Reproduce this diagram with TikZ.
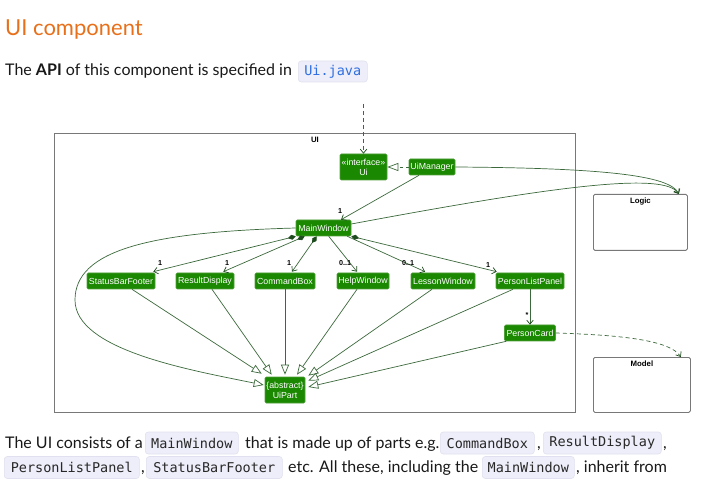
\documentclass[tikz,border=0pt]{standalone}
\usepackage{fontspec}
\setmainfont{Lato}
\newfontfamily\boxfont{Liberation Sans}
\newfontfamily\codefont{DejaVu Sans Mono}
\usetikzlibrary{arrows.meta,calc}
\definecolor{titleorange}{RGB}{232,112,26}
\definecolor{umlgreen}{RGB}{26,136,0}
\definecolor{umlborder}{RGB}{80,160,60}
\definecolor{umlline}{RGB}{60,105,60}
\definecolor{umltip}{RGB}{30,75,30}
\definecolor{codebg}{RGB}{238,238,250}
\definecolor{codeborder}{RGB}{224,224,240}
\definecolor{codefg}{RGB}{40,40,40}
\definecolor{codeblue}{RGB}{45,110,225}
\definecolor{framegray}{RGB}{120,120,120}
\definecolor{bodyfg}{RGB}{25,25,25}
\begin{document}
\begin{tikzpicture}[x=1pt,y=-1pt,
  cls/.style={fill=umlgreen, draw=umlborder, line width=0.6pt, rounded corners=1.2pt,
    text=white, font=\boxfont\fontsize{8.8}{9.8}\selectfont, inner sep=0pt,
    minimum height=16pt, align=center},
  umlpkg/.style={draw=framegray, line width=0.8pt, inner sep=0pt, anchor=north west},
  pkglabel/.style={font=\boxfont\bfseries\fontsize{7.8}{9}\selectfont, inner sep=0pt},
  conn/.style={draw=umlline, line width=0.7pt},
  assoc/.style={conn, -{Straight Barb[length=4pt,width=6.5pt,color=umltip]}},
  inh/.style={conn, -{Triangle[length=10pt,width=8pt,fill=white]}},
  comp/.style={conn, {Diamond[length=8pt,width=5pt,fill=umltip,color=umltip]}-{Straight Barb[length=4pt,width=6.5pt,color=umltip]}},
  mult/.style={font=\boxfont\bfseries\fontsize{7.2}{8}\selectfont, text=black, inner sep=0pt},
  bodytext/.style={anchor=base west, inner sep=0pt, text=bodyfg, font=\fontsize{16}{19}\selectfont},
  codebox/.style={anchor=west, fill=codebg, draw=codeborder, line width=0.6pt, rounded corners=3pt,
    inner sep=0pt, minimum height=22pt, text=codefg, font=\codefont\fontsize{13.5}{16}\selectfont},
]
\useasboundingbox (0,0) rectangle (717,502);
\fill[white] (0,0) rectangle (717,502);

% header text
\node[anchor=base west, inner sep=0pt, text=titleorange, font=\fontsize{22}{26}\selectfont] (title) at (5,36) {UI component};
\node[bodytext] (api) at (5,76) {The \textbf{API} of this component is specified in};
\node[codebox, text=codeblue, minimum width=69pt, minimum height=21pt] (uijava) at (298,71.5) {Ui.java};

% packages
\node[umlpkg, minimum width=521pt, minimum height=279pt] (uipkg) at (54,133) {};
\node[pkglabel] (uilbl) at ($(uipkg.north)+(0,6.5)$) {UI};
\node[umlpkg, rounded corners=1.5pt, minimum width=94pt, minimum height=56pt] (logic) at (593,194) {};
\node[pkglabel] (logiclbl) at ($(logic.north)+(0,7.5)$) {Logic};
\node[umlpkg, rounded corners=1.5pt, minimum width=97pt, minimum height=55pt] (model) at (593,357) {};
\node[pkglabel] (modellbl) at ($(model.north)+(0,7)$) {Model};

% classes
\node[cls, minimum width=47pt, minimum height=26pt] (ui) at (363.5,167) {«interface»\\Ui};
\node[cls, minimum width=46pt] (uim) at (432,167) {UiManager};
\node[cls, minimum width=55pt] (mw) at (323.5,228) {MainWindow};
\node[cls, minimum width=68pt] (sbf) at (121,281) {StatusBarFooter};
\node[cls, minimum width=58pt] (rd) at (205,281) {ResultDisplay};
\node[cls, minimum width=60pt] (cb) at (285,281) {CommandBox};
\node[cls, minimum width=52pt] (hw) at (363,281) {HelpWindow};
\node[cls, minimum width=64pt] (lw) at (443,281) {LessonWindow};
\node[cls, minimum width=68pt] (plp) at (530,281) {PersonListPanel};
\node[cls, minimum width=51pt] (pc) at (530,333) {PersonCard};
\node[cls, minimum width=40pt, minimum height=26pt] (up) at (285,390) {\{abstract\}\\UiPart};

% external dashed arrow into Ui
\coordinate (topin) at (363.5,104);
\draw[assoc, dash pattern=on 4pt off 3pt] (topin) -- (ui.north);

% realization
\draw[conn, dash pattern=on 3pt off 3pt, -{Triangle[length=11pt,width=8pt,fill=white]}] (uim.west) -- (ui.east);

% UiManager -> MainWindow
\draw[assoc] ($(uim.south)+(-13,0)$) -- ($(mw.north)+(17.5,0)$);
\node[mult] (m0) at (340,211) {1};

% compositions / associations from MainWindow
\draw[comp] (mw.south west) -- ($(sbf.north east)+(-2,-1)$);
\draw[comp] ($(mw.south west)+(9,0)$) -- ($(rd.north east)+(-11,-1)$);
\draw[comp] ($(mw.south west)+(21,0)$) -- ($(cb.north)+(7,-1)$);
\draw[assoc] ($(mw.south west)+(33,0)$) -- ($(hw.north)+(-6,-1)$);
\draw[assoc] ($(mw.south east)+(-4,0)$) -- ($(lw.north)+(-18,-1)$);
\draw[comp] (mw.south east) -- ($(plp.north west)+(1,-1)$);
\node[mult] (m1) at (160,263) {1};
\node[mult] (m2) at (227,263) {1};
\node[mult] (m3) at (289,263) {1};
\node[mult] (m4) at (345,263) {0..1};
\node[mult] (m5) at (408,263) {0..1};
\node[mult] (m6) at (488,265) {1};

% PersonListPanel -> PersonCard
\draw[assoc] (plp.south) -- (plp.south |- pc.north);
\node[mult] (m7) at (527,315) {*};

% inheritance to UiPart
\draw[inh] (mw.west) .. controls (150,232) and (75,250) .. (75,300)
  .. controls (75,350) and (190,370) .. ($(up.west)+(-1,-5)$);
\draw[inh] ($(sbf.south)+(11,0)$) -- ($(up.north west)+(-3,-3)$);
\draw[inh] ($(rd.south)+(7,0)$) -- ($(up.north west)+(7,-2)$);
\draw[inh] (cb.south) -- ($(up.north)+(0,-2)$);
\draw[inh] ($(hw.south)+(-6,0)$) -- ($(up.north)+(12,-2)$);
\draw[inh] ($(lw.south)+(-11,0)$) -- ($(up.north east)+(3,-1)$);
\draw[inh] ($(plp.south)+(-17,0)$) -- ($(up.north east)+(3,4)$);
\draw[inh] ($(pc.south west)+(2,0)$) -- ($(up.east)+(3,-3)$);

% to Logic
\draw[assoc] (uim.east) .. controls (600,168) and (670,175) .. ($(logic.north east)+(-9,0)$);
\draw[assoc] ($(mw.east)+(0,-4)$) .. controls (560,185) and (665,172) .. ($(logic.north east)+(-9,0)$);

% to Model
\draw[assoc, dash pattern=on 4pt off 3pt] (pc.east) .. controls (620,335) and (670,340) .. ($(model.north east)+(-10,0)$);

% bottom paragraph, line 1
\node[bodytext] (t1) at (5,448) {The UI consists of a};
\node[codebox, minimum width=93pt] (c1) at (145,443) {MainWindow};
\node[bodytext] (t2) at (245,448) {that is made up of parts e.g.};
\node[codebox, minimum width=94pt] (c2) at (440,443) {CommandBox};
\node[bodytext] (t3) at (537,448) {,};
\node[codebox, minimum width=118pt] (c3) at (543,443) {ResultDisplay};
\node[bodytext] (t4) at (663,448) {,};
% line 2
\node[codebox, minimum width=135pt] (c4) at (4,467.5) {PersonListPanel};
\node[bodytext] (t5) at (141,472) {,};
\node[codebox, minimum width=136pt] (c5) at (146,467.5) {StatusBarFooter};
\node[bodytext] (t6) at (288,472) {etc. All these, including the};
\node[codebox, minimum width=92pt] (c6) at (482,467.5) {MainWindow};
\node[bodytext] (t7) at (576,472) {, inherit from};
\end{tikzpicture}
\end{document}
